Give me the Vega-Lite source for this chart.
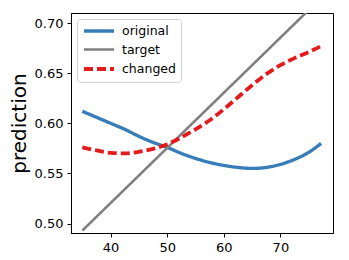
{
  "$schema": "https://vega.github.io/schema/vega-lite/v6.json",
  "width": 262,
  "height": 220,
  "autosize": {"type": "none"},
  "padding": {"left": 71, "top": 13, "right": 16, "bottom": 27},
  "config": {
    "font": "DejaVu Sans",
    "view": {"stroke": "#000000", "strokeWidth": 1},
    "axis": {
      "grid": false,
      "domainColor": "#000000",
      "tickColor": "#000000",
      "tickSize": 4,
      "labelFontSize": 13,
      "labelColor": "#000000",
      "labelFont": "DejaVu Sans",
      "labelPadding": 4
    }
  },
  "data": {
    "values": [
      {"x": 35, "y": 0.612, "series": "original"},
      {"x": 37.5, "y": 0.606, "series": "original"},
      {"x": 40, "y": 0.600, "series": "original"},
      {"x": 42.5, "y": 0.594, "series": "original"},
      {"x": 45, "y": 0.587, "series": "original"},
      {"x": 47.5, "y": 0.581, "series": "original"},
      {"x": 50, "y": 0.576, "series": "original"},
      {"x": 52.5, "y": 0.570, "series": "original"},
      {"x": 55, "y": 0.565, "series": "original"},
      {"x": 57.5, "y": 0.561, "series": "original"},
      {"x": 60, "y": 0.558, "series": "original"},
      {"x": 62.5, "y": 0.556, "series": "original"},
      {"x": 65, "y": 0.555, "series": "original"},
      {"x": 67.5, "y": 0.556, "series": "original"},
      {"x": 70, "y": 0.559, "series": "original"},
      {"x": 72.5, "y": 0.564, "series": "original"},
      {"x": 75, "y": 0.571, "series": "original"},
      {"x": 77.2, "y": 0.580, "series": "original"},
      {"x": 35, "y": 0.493, "series": "target"},
      {"x": 77.2, "y": 0.725, "series": "target"},
      {"x": 35, "y": 0.576, "series": "changed"},
      {"x": 37.5, "y": 0.573, "series": "changed"},
      {"x": 40, "y": 0.5705, "series": "changed"},
      {"x": 42.5, "y": 0.570, "series": "changed"},
      {"x": 45, "y": 0.5715, "series": "changed"},
      {"x": 47.5, "y": 0.5745, "series": "changed"},
      {"x": 50, "y": 0.579, "series": "changed"},
      {"x": 52.5, "y": 0.586, "series": "changed"},
      {"x": 55, "y": 0.594, "series": "changed"},
      {"x": 57.5, "y": 0.603, "series": "changed"},
      {"x": 60, "y": 0.614, "series": "changed"},
      {"x": 62.5, "y": 0.626, "series": "changed"},
      {"x": 65, "y": 0.638, "series": "changed"},
      {"x": 67.5, "y": 0.649, "series": "changed"},
      {"x": 70, "y": 0.658, "series": "changed"},
      {"x": 72.5, "y": 0.665, "series": "changed"},
      {"x": 75, "y": 0.671, "series": "changed"},
      {"x": 77.2, "y": 0.677, "series": "changed"}
    ]
  },
  "mark": {"type": "line", "clip": true, "interpolate": "monotone"},
  "encoding": {
    "x": {
      "field": "x",
      "type": "quantitative",
      "scale": {"domain": [33.0, 79.3], "nice": false, "zero": false},
      "axis": {"values": [40, 50, 60, 70], "title": null}
    },
    "y": {
      "field": "y",
      "type": "quantitative",
      "scale": {"domain": [0.4906, 0.710], "nice": false, "zero": false},
      "axis": {
        "values": [0.5, 0.55, 0.6, 0.65, 0.7],
        "format": ".2f",
        "title": "prediction",
        "titleFontSize": 20,
        "titleFontWeight": "normal",
        "titleColor": "#000000",
        "titlePadding": 5
      }
    },
    "color": {
      "field": "series",
      "type": "nominal",
      "sort": ["original", "target", "changed"],
      "scale": {"domain": ["original", "target", "changed"], "range": ["#377eb8", "#808080", "#e41a1c"]},
      "legend": {
        "title": null,
        "orient": "none",
        "legendX": 6,
        "legendY": 6,
        "padding": 5,
        "fillColor": "#ffffff",
        "strokeColor": "#d0d0d0",
        "cornerRadius": 3,
        "symbolType": "M-1,0L5,0",
        "symbolSize": 100,
        "symbolStrokeWidth": 3.5,
        "labelFontSize": 12.5,
        "labelFont": "DejaVu Sans",
        "labelColor": "#000000",
        "labelOffset": 26,
        "rowPadding": 5
      }
    },
    "strokeDash": {
      "field": "series",
      "type": "nominal",
      "sort": ["original", "target", "changed"],
      "scale": {"domain": ["original", "target", "changed"], "range": [[1, 0], [1, 0], [9, 4]]}
    },
    "strokeWidth": {
      "field": "series",
      "type": "nominal",
      "sort": ["original", "target", "changed"],
      "scale": {"type": "ordinal", "domain": ["original", "target", "changed"], "range": [3.4, 2.6, 3.8]},
      "legend": null
    }
  }
}
